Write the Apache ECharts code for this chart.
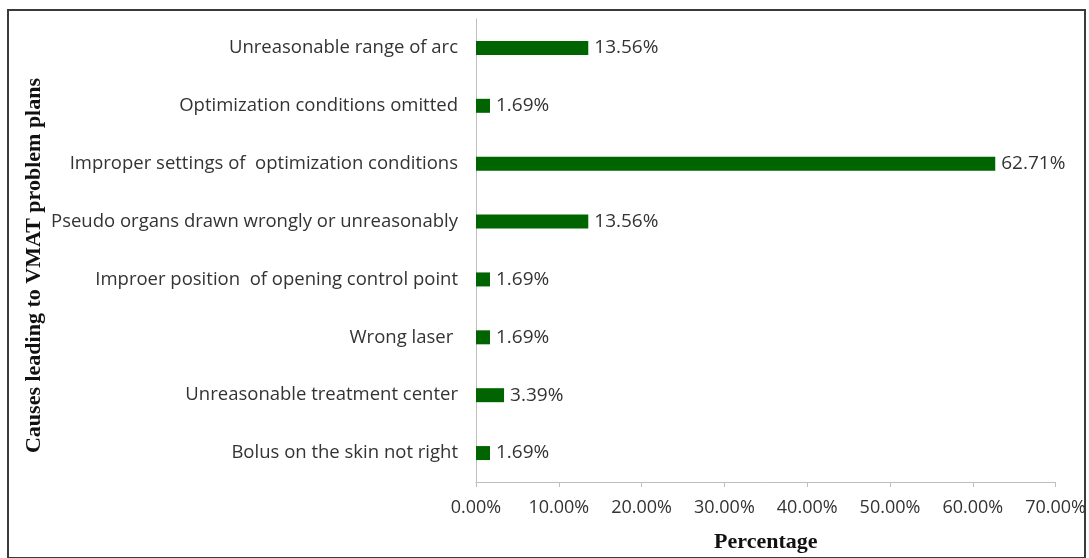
<!DOCTYPE html>
<html><head><meta charset="utf-8">
<script src="https://cdn.jsdelivr.net/npm/echarts@6/dist/echarts.min.js"></script>
<style>html,body{margin:0;padding:0;background:#fff}#c{width:1089px;height:558px}</style>
</head><body><div id="c"></div>
<script>
const categories = [
  "Unreasonable range of arc",
  "Optimization conditions omitted",
  "Improper settings of  optimization conditions",
  "Pseudo organs drawn wrongly or unreasonably",
  "Improer position  of opening control point",
  "Wrong laser ",
  "Unreasonable treatment center",
  "Bolus on the skin not right"
];
const values = [13.56, 1.69, 62.71, 13.56, 1.69, 1.69, 3.39, 1.69];
const xTicks = [0, 10, 20, 30, 40, 50, 60, 70];

const chart = echarts.init(document.getElementById('c'));
const sans = '"Open Sans", Lato, sans-serif';
const serif = '"Liberation Serif", "DejaVu Serif", serif';
chart.setOption({
  animation: false,
  graphic: [{
    type: 'rect', shape: {x: 8, y: 10, width: 1077, height: 548},
    style: {fill: 'none', stroke: '#3a3a3a', lineWidth: 2}, silent: true
  }],
  grid: {left: 476, right: 27, top: 19, bottom: 74, containLabel: false},
  xAxis: {
    type: 'value', min: xTicks[0], max: xTicks[xTicks.length - 1], interval: 10,
    name: 'Percentage', nameLocation: 'middle', nameGap: 49, nameMoveOverlap: false,
    nameTextStyle: {fontFamily: serif, fontWeight: 'bold', fontSize: 22, color: '#111'},
    axisLine: {show: true, lineStyle: {color: '#bfbfbf', width: 1}},
    axisTick: {show: true, length: 5, lineStyle: {color: '#bfbfbf'}},
    splitLine: {show: false},
    axisLabel: {formatter: v => v.toFixed(2) + '%', fontFamily: sans, fontSize: 18, color: '#333', margin: 17}
  },
  yAxis: {
    type: 'category', data: categories, inverse: true,
    name: 'Causes leading to VMAT problem plans', nameLocation: 'middle', nameGap: 431, nameRotate: 90, nameMoveOverlap: false,
    nameTextStyle: {fontFamily: serif, fontWeight: 'bold', fontSize: 22, color: '#111', padding: [0, 30, 0, 0]},
    axisLine: {show: true, lineStyle: {color: '#bfbfbf', width: 1}},
    axisTick: {show: false},
    axisLabel: {fontFamily: sans, fontSize: 18.5, color: '#333', margin: 18}
  },
  series: [{
    type: 'bar', data: values, barWidth: 14,
    itemStyle: {color: '#006400'},
    label: {show: true, position: 'right', distance: 6, formatter: p => p.value.toFixed(2) + '%', fontFamily: sans, fontSize: 19, color: '#333'}
  }]
});
</script></body></html>
